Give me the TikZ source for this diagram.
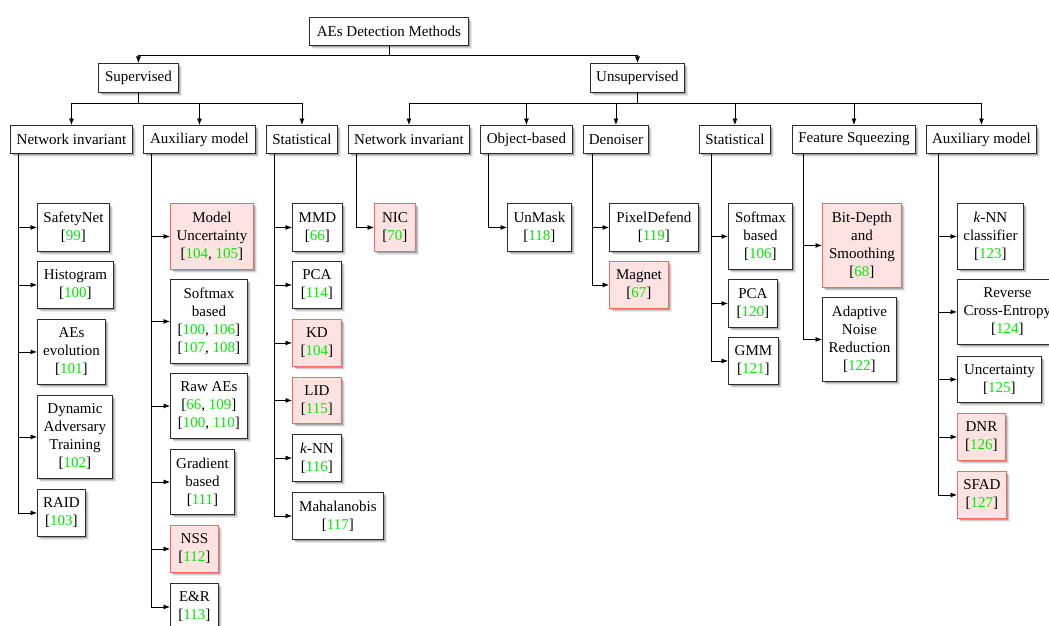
\documentclass[tikz,border=0pt]{standalone}
\usepackage{fontspec}
\setmainfont{Liberation Serif}
\usetikzlibrary{arrows.meta,shadows}

\definecolor{citegreen}{RGB}{0,235,0}
\definecolor{redfill}{RGB}{253,226,226}
\definecolor{redline}{RGB}{245,105,105}
\definecolor{boxline}{RGB}{45,45,45}
\newcommand\cg[1]{\textcolor{citegreen}{#1}}

\tikzset{
  box/.style={draw=boxline, line width=0.9pt, fill=white, inner sep=0pt,
    align=center, anchor=north west, font=\fontsize{15}{18}\selectfont,
    drop shadow={shadow xshift=4pt, shadow yshift=-4pt, fill=black, opacity=0.08},
    drop shadow={shadow xshift=3pt, shadow yshift=-3pt, fill=black, opacity=0.12},
    drop shadow={shadow xshift=1.8pt, shadow yshift=-1.8pt, fill=black, opacity=0.2}},
  hot/.style={box, draw=redline, fill=redfill},
  arr/.style={draw=black, line width=0.8pt, -{Latex[length=6.5pt,width=5pt]}},
}

\begin{document}
\begin{tikzpicture}[x=1pt, y=-1pt]
\useasboundingbox (0,0) rectangle (1049,626);
\clip (0,0) rectangle (1049,626);

% top levels
\node[box, minimum width=159pt, minimum height=28pt] (root) at (309,17) {AEs Detection Methods};
\node[box, minimum width=80pt, minimum height=29pt] (sup) at (98,63) {Supervised};
\node[box, minimum width=94pt, minimum height=29pt] (uns) at (590,63) {Unsupervised};

% categories
\foreach \n/\x/\w/\t in {sni/10/122/Network invariant, saux/143/112/Auxiliary model,
    sstat/266/71/Statistical, uni/348/121/Network invariant, uobj/480/92/Object-based,
    uden/583/65/Denoiser, ustat/699/71/Statistical, ufs/792/123/Feature Squeezing,
    uaux/926/110/Auxiliary model}
  \node[box, minimum width=\w pt, minimum height=28pt] (\n) at (\x,125) {\t};

% supervised: network invariant
\node[box, minimum width=72pt, minimum height=48pt] (safety) at (37,203) {SafetyNet\\{}[\cg{99}]};
\node[box, minimum width=76pt, minimum height=47pt] (histo) at (37,261) {Histogram\\{}[\cg{100}]};
\node[box, minimum width=68pt, minimum height=65pt] (evol) at (37,319) {AEs\\evolution\\{}[\cg{101}]};
\node[box, minimum width=75pt, minimum height=83pt] (dat) at (37,395) {Dynamic\\Adversary\\Training\\{}[\cg{102}]};
\node[box, minimum width=48pt, minimum height=47pt] (raid) at (37,489) {RAID\\{}[\cg{103}]};

% supervised: auxiliary model
\node[hot, minimum width=83pt, minimum height=66pt] (munc) at (170,203) {Model\\Uncertainty\\{}[\cg{104}, \cg{105}]};
\node[box, minimum width=77pt, minimum height=84pt] (smax) at (170,279) {Softmax\\based\\{}[\cg{100}, \cg{106}]\\{}[\cg{107}, \cg{108}]};
\node[box, minimum width=77pt, minimum height=65pt] (raw) at (170,373) {Raw AEs\\{}[\cg{66}, \cg{109}]\\{}[\cg{100}, \cg{110}]};
\node[box, minimum width=64pt, minimum height=65pt] (grad) at (170,449) {Gradient\\based\\{}[\cg{111}]};
\node[hot, minimum width=48pt, minimum height=47pt] (nss) at (170,525) {NSS\\{}[\cg{112}]};
\node[box, minimum width=48pt, minimum height=47pt] (er) at (170,583) {E\&R\\{}[\cg{113}]};

% supervised: statistical
\node[box, minimum width=50pt, minimum height=48pt] (mmd) at (292,203) {MMD\\{}[\cg{66}]};
\node[box, minimum width=49pt, minimum height=47pt] (pca) at (292,261) {PCA\\{}[\cg{114}]};
\node[hot, minimum width=49pt, minimum height=47pt] (kd) at (292,319) {KD\\{}[\cg{104}]};
\node[hot, minimum width=49pt, minimum height=46pt] (lid) at (292,377) {LID\\{}[\cg{115}]};
\node[box, minimum width=49pt, minimum height=47pt] (knn) at (292,434) {\textit{k}-NN\\{}[\cg{116}]};
\node[box, minimum width=91pt, minimum height=47pt] (maha) at (292,492) {Mahalanobis\\{}[\cg{117}]};

% unsupervised leaves
\node[hot, minimum width=41pt, minimum height=48pt] (nic) at (374,203) {NIC\\{}[\cg{70}]};
\node[box, minimum width=64pt, minimum height=48pt] (unmask) at (507,203) {UnMask\\{}[\cg{118}]};
\node[box, minimum width=89pt, minimum height=48pt] (pixd) at (609,203) {PixelDefend\\{}[\cg{119}]};
\node[hot, minimum width=59pt, minimum height=47pt] (magnet) at (609,261) {Magnet\\{}[\cg{67}]};
\node[box, minimum width=64pt, minimum height=66pt] (usmax) at (728,203) {Softmax\\based\\{}[\cg{106}]};
\node[box, minimum width=49pt, minimum height=48pt] (upca) at (728,279) {PCA\\{}[\cg{120}]};
\node[box, minimum width=50pt, minimum height=47pt] (gmm) at (728,337) {GMM\\{}[\cg{121}]};
\node[hot, minimum width=79pt, minimum height=84pt] (bitd) at (822,203) {Bit-Depth\\and\\Smoothing\\{}[\cg{68}]};
\node[box, minimum width=74pt, minimum height=84pt] (anr) at (822,297) {Adaptive\\Noise\\Reduction\\{}[\cg{122}]};
\node[box, minimum width=66pt, minimum height=66pt] (knnc) at (957,203) {\textit{k}-NN\\classifier\\{}[\cg{123}]};
\node[box, minimum width=100pt, minimum height=65pt] (rce) at (957,279) {Reverse\\Cross-Entropy\\{}[\cg{124}]};
\node[box, minimum width=84pt, minimum height=46pt] (unc) at (957,356) {Uncertainty\\{}[\cg{125}]};
\node[hot, minimum width=48pt, minimum height=47pt] (dnr) at (957,413) {DNR\\{}[\cg{126}]};
\node[hot, minimum width=49pt, minimum height=47pt] (sfad) at (957,471) {SFAD\\{}[\cg{127}]};

% tree edges
\draw[arr] (root.south) -- ++(0,10) -| (sup.north);
\draw[arr] (root.south) -- ++(0,10) -| (uns.north);
\foreach \c in {sni,saux,sstat}
  \draw[arr] (sup.south) -- ++(0,10) -| (\c.north);
\foreach \c in {uni,uobj,uden,ustat,ufs,uaux}
  \draw[arr] (uns.south) -- ++(0,10) -| (\c.north);

% leaf edges hanging from each category
\foreach \p/\o/\leaves in {sni/8/{safety,histo,evol,dat,raid},
    saux/8/{munc,smax,raw,grad,nss,er},
    sstat/8/{mmd,pca,kd,lid,knn,maha},
    uni/8/{nic}, uobj/8/{unmask}, uden/9/{pixd,magnet},
    ustat/12/{usmax,upca,gmm}, ufs/11/{bitd,anr},
    uaux/12/{knnc,rce,unc,dnr,sfad}}
  \foreach \l in \leaves
    \draw[arr] ([xshift=\o pt]\p.south west) |- (\l.west);
\end{tikzpicture}
\end{document}
